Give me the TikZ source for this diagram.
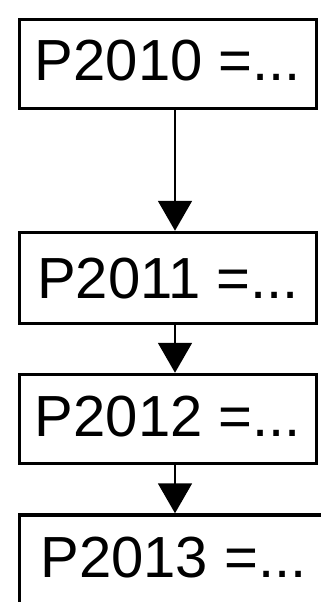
\documentclass[tikz,border=0pt]{standalone}
\usepackage{fontspec}
\setmainfont{Liberation Sans}
\usepackage{tikz}
\usetikzlibrary{arrows.meta}

\tikzset{
  parbox/.style={draw,line width=3.5pt,minimum width=297pt,minimum height=89pt,
    inner sep=0pt,text depth=4pt,font=\fontsize{58}{64}\selectfont},
  parrow/.style={line width=2pt,-{Triangle[length=30pt,width=34pt]}}
}

\begin{document}
\begin{tikzpicture}[x=1pt,y=-1pt]
  \useasboundingbox (0,0) rectangle (321,602);
  \node[parbox,text depth=8pt] (b1) at (168,64) {P2010 =...};
  \node[parbox,minimum height=91pt,text depth=0pt] (b2) at (168,278) {P2011 =...};
  \node[parbox,text depth=5pt] (b3) at (168,419) {P2012 =...};
  \node[parbox,minimum width=308pt] (b4) at (173.5,559.5) {P2013 =...};
  \coordinate (ax) at (175,0);
  \foreach \a/\b in {b1/b2,b2/b3,b3/b4}
    \draw[parrow] (\a.south -| ax) -- (\b.north -| ax);
\end{tikzpicture}
\end{document}
